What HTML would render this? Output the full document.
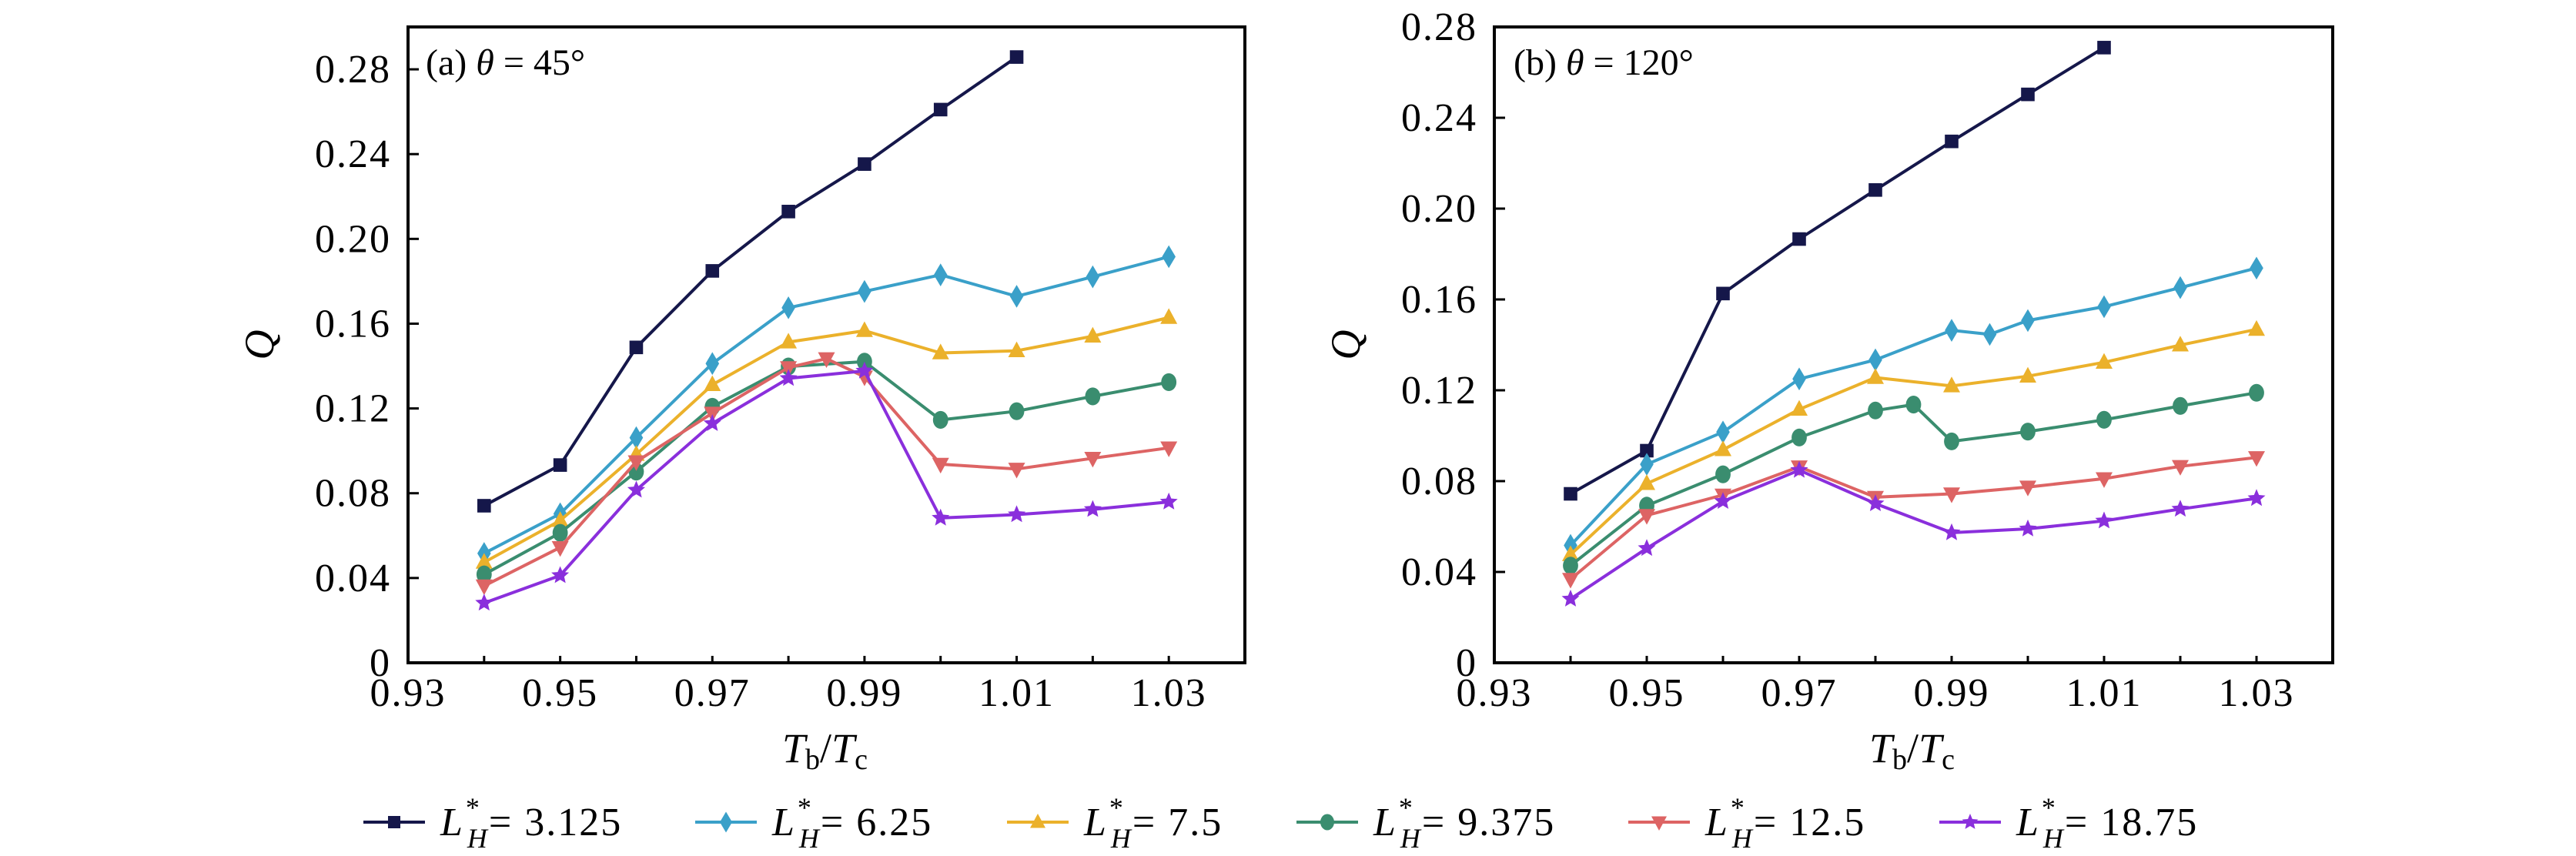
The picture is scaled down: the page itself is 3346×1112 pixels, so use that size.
<!DOCTYPE html>
<html><head><meta charset="utf-8">
<style>
html,body{margin:0;padding:0;background:#fff;}
svg{display:block;}
text{font-family:"Liberation Serif","DejaVu Serif",serif;fill:#000;}
</style></head>
<body>
<svg id="chart" width="3346" height="1112" viewBox="0 0 3346 1112" xmlns="http://www.w3.org/2000/svg"></svg>
<script>
const seriesNames = ["3.125","6.25","7.5","9.375","12.5","18.75"];
const seriesColors = ["#15174a","#3aa0c9","#ebb12b","#3a8d6f","#dd6464","#8a2fdc"];
const seriesMarkers = ["square","diamond","triangle","circle","tri-down","star"];
const xTicksLabeled = [0.93,0.95,0.97,0.99,1.01,1.03];
const xTicksAll = [0.94,0.95,0.96,0.97,0.98,0.99,1.00,1.01,1.02,1.03];
const yTicksA = [0,0.04,0.08,0.12,0.16,0.20,0.24,0.28];
const yTicksB = [0,0.04,0.08,0.12,0.16,0.20,0.24,0.28];
// panel (a) theta=45
const aX0 = [0.94,0.95,0.96,0.97,0.98,0.99,1.00,1.01];
const aY0 = [0.0741,0.0933,0.1488,0.1849,0.2129,0.2353,0.2610,0.2858];
const aX1 = [0.94,0.95,0.96,0.97,0.98,0.99,1.00,1.01,1.02,1.03];
const aY1 = [0.0516,0.0703,0.1062,0.1412,0.1675,0.1752,0.1830,0.1729,0.1821,0.1916];
const aX2 = [0.94,0.95,0.96,0.97,0.98,0.99,1.00,1.01,1.02,1.03];
const aY2 = [0.0474,0.0671,0.0983,0.1312,0.1513,0.1567,0.1462,0.1472,0.1541,0.1629];
const aX3 = [0.94,0.95,0.96,0.97,0.98,0.99,1.00,1.01,1.02,1.03];
const aY3 = [0.0417,0.0613,0.0902,0.1208,0.1398,0.1421,0.1146,0.1187,0.1257,0.1324];
const aX4 = [0.94,0.95,0.96,0.97,0.98,0.985,0.99,1.00,1.01,1.02,1.03];
const aY4 = [0.0363,0.0544,0.0949,0.1178,0.1393,0.1435,0.1349,0.0937,0.0914,0.0965,0.1014];
const aX5 = [0.94,0.95,0.96,0.97,0.98,0.99,1.00,1.01,1.02,1.03];
const aY5 = [0.0282,0.0412,0.0815,0.1129,0.1342,0.1377,0.0683,0.0699,0.0724,0.0759];
// panel (b) theta=120
const bX0 = [0.94,0.95,0.96,0.97,0.98,0.99,1.00,1.01];
const bY0 = [0.0744,0.0934,0.1626,0.1866,0.2082,0.2296,0.2503,0.2709];
const bX1 = [0.94,0.95,0.96,0.97,0.98,0.99,0.995,1.00,1.01,1.02,1.03];
const bY1 = [0.0517,0.0874,0.1016,0.1250,0.1334,0.1464,0.1446,0.1507,0.1568,0.1652,0.1738];
const bX2 = [0.94,0.95,0.96,0.97,0.98,0.99,1.00,1.01,1.02,1.03];
const bY2 = [0.0476,0.0789,0.0938,0.1116,0.1256,0.1219,0.1262,0.1323,0.1399,0.1468];
const bX3 = [0.94,0.95,0.96,0.97,0.98,0.985,0.99,1.00,1.01,1.02,1.03];
const bY3 = [0.0428,0.0692,0.0830,0.0992,0.1111,0.1137,0.0975,0.1018,0.1070,0.1131,0.1189];
const bX4 = [0.94,0.95,0.96,0.97,0.98,0.99,1.00,1.01,1.02,1.03];
const bY4 = [0.0368,0.0649,0.0739,0.0863,0.0729,0.0744,0.0774,0.0811,0.0865,0.0904];
const bX5 = [0.94,0.95,0.96,0.97,0.98,0.99,1.00,1.01,1.02,1.03];
const bY5 = [0.0281,0.0504,0.0711,0.0848,0.0701,0.0573,0.0590,0.0625,0.0677,0.0724];

const NS = "http://www.w3.org/2000/svg";
const svg = document.getElementById('chart');
function mk(tag, attrs, parent){
  const e = document.createElementNS(NS, tag);
  for (const k in attrs) e.setAttribute(k, attrs[k]);
  (parent||svg).appendChild(e);
  return e;
}
function marker(g, type, cx, cy, color, s){
  let e;
  if (type==="square") e = mk('rect',{x:cx-s*0.8,y:cy-s*0.8,width:s*1.6,height:s*1.6,fill:color},g);
  else if (type==="diamond") e = mk('polygon',{points:`${cx},${cy-s*1.35} ${cx+s*0.8},${cy} ${cx},${cy+s*1.35} ${cx-s*0.8},${cy}`,fill:color},g);
  else if (type==="triangle") e = mk('polygon',{points:`${cx},${cy-s*1.1} ${cx+s},${cy+s*0.75} ${cx-s},${cy+s*0.75}`,fill:color},g);
  else if (type==="tri-down") e = mk('polygon',{points:`${cx},${cy+s*1.1} ${cx+s},${cy-s*0.75} ${cx-s},${cy-s*0.75}`,fill:color},g);
  else if (type==="circle") e = mk('ellipse',{cx:cx,cy:cy,rx:s*0.9,ry:s*1.05,fill:color},g);
  else {
    let p=[];
    for(let i=0;i<10;i++){const r=i%2?s*0.5:s*1.1;const a=-Math.PI/2+i*Math.PI/5;p.push((cx+r*Math.cos(a)).toFixed(1)+','+(cy+r*Math.sin(a)).toFixed(1));}
    e = mk('polygon',{points:p.join(' '),fill:color},g);
  }
  
  
  return e;
}
function panel(id, left, right, top, bottom, ymax, yTicks, xs, ys, label, labelX){
  const g = mk('g',{});
  
  
  const xS = v => left + (v-0.93)/(1.04-0.93)*(right-left);
  const yS = v => bottom - v/ymax*(bottom-top);
  for (let s=0;s<xs.length;s++){
    const sg = mk('g',{},g);
    
    
    const pts = xs[s].map((x,i)=>xS(x).toFixed(1)+','+yS(ys[s][i]).toFixed(1)).join(' ');
    const pl = mk('polyline',{points:pts,fill:'none',stroke:seriesColors[s],'stroke-width':4,'stroke-linejoin':'round'},sg);
    
    
    xs[s].forEach((x,i)=>marker(sg, seriesMarkers[s], xS(x), yS(ys[s][i]), seriesColors[s], 11));
  }
  const fr = mk('rect',{x:left,y:top,width:right-left,height:bottom-top,fill:'none',stroke:'#000','stroke-width':4},g);
  
  
  xTicksAll.forEach(v=>{
    const t = mk('line',{x1:xS(v),x2:xS(v),y1:bottom,y2:bottom-9,stroke:'#000','stroke-width':3},g);
    
    
  });
  xTicksLabeled.forEach(v=>{
    const t = mk('text',{x:xS(v),y:917,'text-anchor':'middle','font-size':52,'letter-spacing':2},g);
    t.textContent = v.toFixed(2);
    
    
  });
  yTicks.forEach(v=>{
    const t = mk('line',{x1:left,x2:left+14,y1:yS(v),y2:yS(v),stroke:'#000','stroke-width':3},g);
    
    
    const l = mk('text',{x:left-22,y:yS(v)+17,'text-anchor':'end','font-size':52,'letter-spacing':2},g);
    l.textContent = v===0?'0':v.toFixed(2);
    
    
  });
  const yt = mk('text',{x:0,y:0,'font-size':54,'font-style':'italic',transform:`translate(${left-175},${(top+bottom)/2}) rotate(-90)`,'text-anchor':'middle'},g);
  yt.textContent='Q';
  
  
  const xt = mk('text',{x:(left+right)/2-2,y:990,'font-size':54,'text-anchor':'middle'},g);
  xt.innerHTML='<tspan font-style="italic">T</tspan><tspan font-size="38" dy="9">b</tspan><tspan dy="-9">/</tspan><tspan font-style="italic">T</tspan><tspan font-size="38" dy="9">c</tspan>';
  
  
  const pl = mk('text',{x:labelX,y:97,'font-size':48},g);
  pl.innerHTML = label;
  
  
}
panel('a',530,1617,35,861,0.30,yTicksA,[aX0,aX1,aX2,aX3,aX4,aX5],[aY0,aY1,aY2,aY3,aY4,aY5],
  '(a) <tspan font-style="italic">θ</tspan> = 45°',553);
panel('b',1941,3030,35,861,0.28,yTicksB,[bX0,bX1,bX2,bX3,bX4,bX5],[bY0,bY1,bY2,bY3,bY4,bY5],
  '(b) <tspan font-style="italic">θ</tspan> = 120°',1966);

const legendStarts = [472,903,1308,1684,2115,2519];
const lg = mk('g',{});


seriesNames.forEach((n,i)=>{
  const eg = mk('g',{},lg);
  
  
  const x0 = legendStarts[i];
  mk('line',{x1:x0,x2:x0+80,y1:1068,y2:1068,stroke:seriesColors[i],'stroke-width':4},eg);
  marker(eg, seriesMarkers[i], x0+40, 1068, seriesColors[i], 10);
  const t = mk('text',{x:x0+100,y:1085,'font-size':52,'letter-spacing':2},eg);
  t.innerHTML = '<tspan font-style="italic">L</tspan><tspan font-size="36" dy="-24" dx="2">*</tspan><tspan font-size="36" font-style="italic" dy="40" dx="-18">H</tspan><tspan dy="-16">= '+n+'</tspan>';
  
  
});
</script>
</body></html>
